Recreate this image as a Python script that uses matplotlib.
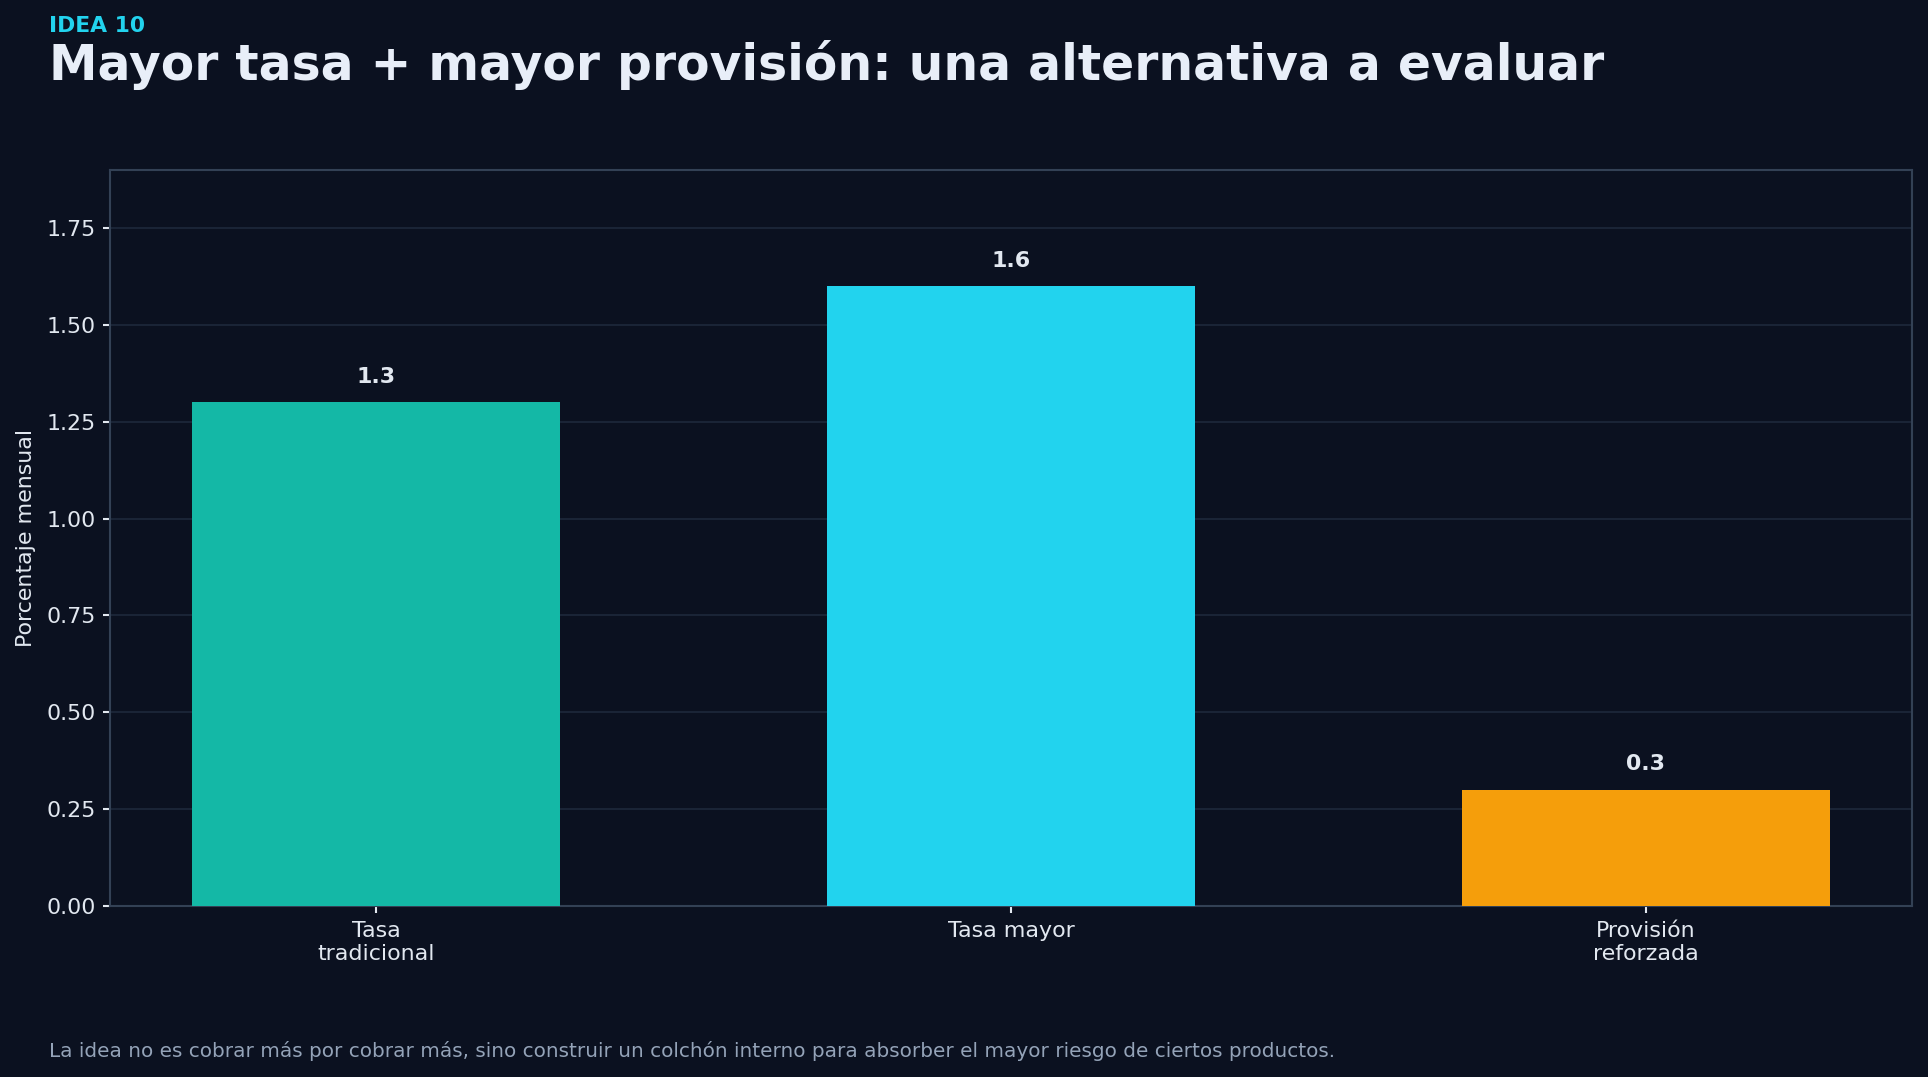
import matplotlib
matplotlib.use("Agg")
import matplotlib.pyplot as plt

categories = ["Tasa\ntradicional", "Tasa mayor", "Provisión\nreforzada"]
values = [1.3, 1.6, 0.3]
colors = ["#14b8a6", "#22d3ee", "#f59e0b"]
value_labels = ["1.3", "1.6", "0.3"]

bg = "#0b1120"
txt = "#e2e8f0"

plt.rcParams["font.family"] = ["DejaVu Sans"]

fig = plt.figure(figsize=(1928 / 150, 1077 / 150), dpi=150, facecolor=bg)
ax = fig.add_axes([110 / 1928, 1 - 906 / 1077, (1912 - 110) / 1928, (906 - 170) / 1077])
ax.set_facecolor(bg)

x = range(len(categories))
ax.bar(x, values, width=0.58, color=colors, zorder=3)

for i, v in enumerate(values):
    ax.text(i, v + 0.04, value_labels[i], ha="center", va="bottom",
            color=txt, fontsize=10.6, fontweight="bold", zorder=4)

ax.set_xticks(list(x))
ax.set_xticklabels(categories, color=txt, fontsize=10.6)
ax.set_ylim(0, 1.9)
ax.set_yticks([0, 0.25, 0.5, 0.75, 1.0, 1.25, 1.5, 1.75])
ax.set_yticklabels(["0.00", "0.25", "0.50", "0.75", "1.00", "1.25", "1.50", "1.75"],
                   color=txt, fontsize=10.6)
ax.tick_params(colors=txt, length=3.5, width=1)
ax.set_ylabel("Porcentaje mensual", color=txt, fontsize=10.6, labelpad=5)

ax.grid(axis="y", color="#1e293b", linewidth=0.8, zorder=0)
ax.set_axisbelow(True)
for s in ax.spines.values():
    s.set_color("#334155")
    s.set_linewidth(1)

fig.text(49 / 1928, 1 - 32 / 1077, "IDEA 10", color="#22d3ee", fontsize=10.5,
         fontweight="bold", ha="left", va="baseline")
fig.text(49 / 1928, 1 - 80 / 1077, "Mayor tasa + mayor provisión: una alternativa a evaluar",
         color="#e8eef8", fontsize=23.4, fontweight="bold", ha="left", va="baseline")
fig.text(49 / 1928, 1 - 1057 / 1077,
         "La idea no es cobrar más por cobrar más, sino construir un colchón interno para absorber el mayor riesgo de ciertos productos.",
         color="#94a3b8", fontsize=9.6, ha="left", va="baseline")

fig.savefig("out.png", dpi=150, facecolor=bg)
